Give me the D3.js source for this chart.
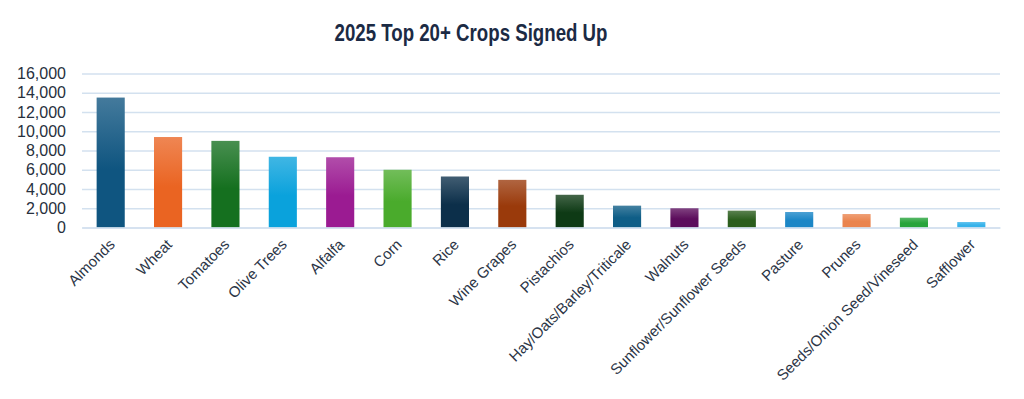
<!DOCTYPE html>
<html>
<head>
<meta charset="utf-8">
<script src="https://cdn.jsdelivr.net/npm/d3@7"></script>
<style>
  body { margin: 0; background: #fff; }
  svg { display: block; }
</style>
</head>
<body>
<svg id="chart" width="1024" height="399"></svg>
<script>
"use strict";

var crops = ["Almonds", "Wheat", "Tomatoes", "Olive Trees", "Alfalfa", "Corn", "Rice",
    "Wine Grapes", "Pistachios", "Hay/Oats/Barley/Triticale", "Walnuts",
    "Sunflower/Sunflower Seeds", "Pasture", "Prunes", "Seeds/Onion Seed/Vineseed", "Safflower"];
var signedUp = [13500, 9400, 9000, 7350, 7300, 6000, 5300, 4950, 3400, 2270, 2000, 1750, 1610, 1400, 1020, 570];
var barColors = ["#0f5580", "#ea6422", "#15701f", "#0aa2dc", "#9b1b92", "#4aab2c", "#0c2f4a",
    "#9a3a0b", "#0e3a15", "#0f5e87", "#5c0d5c", "#2b5e1d", "#1b86c6", "#ea844e", "#27a43c", "#36b2ea"];
var yTicks = [0, 2000, 4000, 6000, 8000, 10000, 12000, 14000, 16000];

var svg = d3.select("#chart");
var margin = {left: 82, right: 24, top: 73.5, bottom: 171.5};
var width = 1024 - margin.left - margin.right;
var height = 399 - margin.top - margin.bottom;

// gradients : plus clair en haut
var defs = svg.append("defs");
barColors.forEach(function(c, i) {
    var g = defs.append("linearGradient").attr("id", "grad" + i)
        .attr("x1", 0).attr("y1", 0).attr("x2", 0).attr("y2", 1);
    g.append("stop").attr("offset", "0%").attr("stop-color", d3.interpolateRgb(c, "#ffffff")(0.22));
    g.append("stop").attr("offset", "55%").attr("stop-color", c);
    g.append("stop").attr("offset", "100%").attr("stop-color", c);
});

// titre (police étroite simulée avec textLength)
svg.append("text")
    .attr("x", 471).attr("y", 41)
    .attr("text-anchor", "middle")
    .attr("textLength", 273)
    .attr("lengthAdjust", "spacingAndGlyphs")
    .style("font-family", "'Liberation Sans', Arial, sans-serif")
    .style("font-weight", "bold")
    .style("font-size", "24px")
    .style("fill", "#1b2a44")
    .text("2025 Top 20+ Crops Signed Up");

var g = svg.append("g").attr("transform", "translate(" + margin.left + "," + margin.top + ")");

var x = d3.scaleBand().domain(crops).range([0, width]).paddingInner(0.51).paddingOuter(0.255);
var y = d3.scaleLinear().domain([0, 16000]).range([height, 0]);

// grille
var yAxis = g.append("g")
    .call(d3.axisLeft(y).tickValues(yTicks).tickSize(-width).tickPadding(16).tickFormat(d3.format(",")));
yAxis.select(".domain").remove();
yAxis.selectAll(".tick line").attr("stroke", "#d3e1ef").attr("stroke-width", 1.5);
yAxis.selectAll(".tick text")
    .style("font-family", "'Liberation Sans', Arial, sans-serif")
    .style("font-size", "16px")
    .style("fill", "#27303d");

g.selectAll("rect.bar")
    .data(signedUp)
    .enter().append("rect")
    .attr("class", "bar")
    .attr("x", function(d, i) { return x(crops[i]); })
    .attr("y", function(d) { return y(d); })
    .attr("width", x.bandwidth())
    .attr("height", function(d) { return height - y(d); })
    .attr("fill", function(d, i) { return "url(#grad" + i + ")"; });

// étiquettes de l'axe x
var xAxis = g.append("g").attr("transform", "translate(0," + height + ")")
    .call(d3.axisBottom(x).tickSize(0).tickPadding(0));
xAxis.select(".domain").attr("stroke", "#d3e1ef").attr("stroke-width", 1.5);
xAxis.selectAll(".tick text")
    .attr("text-anchor", "end")
    .attr("dy", 0)
    .attr("transform", "translate(5,18) rotate(-45)")
    .style("font-family", "'Liberation Sans', Arial, sans-serif")
    .style("font-size", "15px")
    .style("fill", "#2b3546");
</script>
</body>
</html>
